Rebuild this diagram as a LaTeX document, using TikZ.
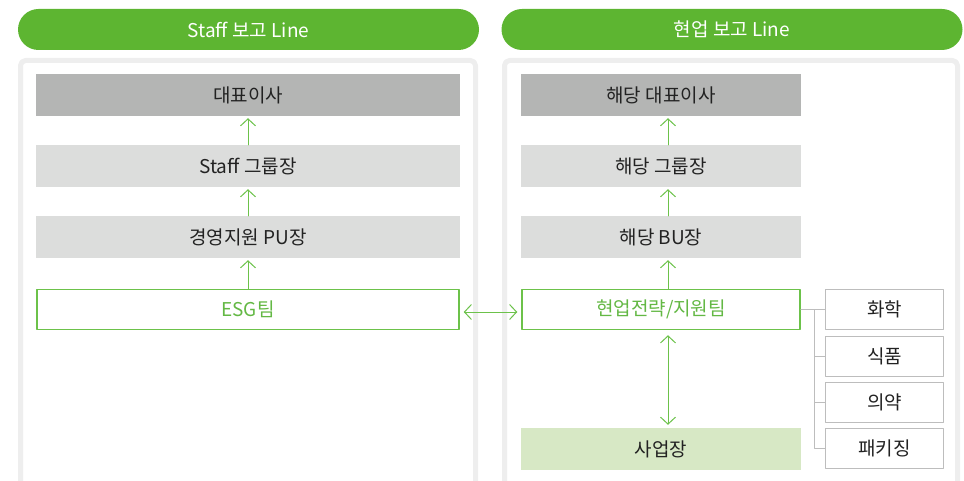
\documentclass[tikz,border=0pt]{standalone}
\usepackage{fontspec}
\setmainfont{Noto Sans CJK KR}
\usetikzlibrary{arrows.meta}

\definecolor{hdgreen}{HTML}{5DB531}
\definecolor{lngreen}{HTML}{6CC24A}
\definecolor{txgreen}{HTML}{63B844}
\definecolor{darkbox}{HTML}{B4B5B4}
\definecolor{lightbox}{HTML}{DCDDDC}
\definecolor{sitebox}{HTML}{D7E8C5}
\definecolor{panelgray}{HTML}{EEEEEE}
\definecolor{subgray}{HTML}{BDBDBD}
\definecolor{txdark}{HTML}{222222}

\tikzset{
  every node/.style={font=\fontsize{19}{21}\selectfont,text=txdark},
  header/.style={fill=hdgreen,rounded corners=20.5pt,text=white,
    minimum width=461pt,minimum height=41pt,inner sep=0pt},
  panel/.style={draw=panelgray,line width=5pt,fill=white,rounded corners=5pt},
  topbox/.style={fill=darkbox,minimum height=42pt,inner sep=0pt},
  midbox/.style={fill=lightbox,minimum height=42pt,inner sep=0pt},
  teambox/.style={draw=lngreen,line width=1.5pt,fill=white,text=txgreen,minimum height=40pt,inner sep=0pt},
  sitebx/.style={fill=sitebox,minimum height=42pt,inner sep=0pt},
  subbox/.style={draw=subgray,line width=1pt,fill=white,minimum width=118pt,minimum height=40pt,inner sep=0pt},
  uparrow/.style={draw=lngreen,line width=1pt,-{Straight Barb[length=7pt,width=15pt]}},
  twoarrow/.style={draw=lngreen,line width=1pt,{Straight Barb[length=7pt,width=15pt]}-{Straight Barb[length=7pt,width=15pt]}},
  tree/.style={draw=subgray,line width=1pt}
}

\begin{document}
\begin{tikzpicture}[line cap=round,line join=round,x=1pt,y=-1pt]
\useasboundingbox (0,0) rectangle (964,481);
\clip (0,0) rectangle (964,481);

% headers
\node[header] (hdstaff) at (248.5,29.5) {Staff 보고 Line};
\node[header] (hdline) at (732,29.5) {현업 보고 Line};

% panels
\draw[panel] (20.5,60.5) rectangle (475.5,500);
\draw[panel] (504.5,60.5) rectangle (957.5,500);

% staff line
\node[topbox,minimum width=424pt] (ceo) at (248,95) {대표이사};
\node[midbox,minimum width=424pt] (grp) at (248,166) {Staff 그룹장};
\node[midbox,minimum width=424pt] (pu) at (248,237) {경영지원 PU장};
\node[teambox,minimum width=422pt] (esg) at (248,309.5) {ESG팀};

\draw[uparrow,shorten >=2pt] (grp.north) -- (ceo.south);
\draw[uparrow,shorten >=2pt] (pu.north) -- (grp.south);
\draw[uparrow,shorten >=2pt] (esg.north) -- (pu.south);

% business line
\node[topbox,minimum width=280pt] (bceo) at (661,95) {해당 대표이사};
\node[midbox,minimum width=280pt] (bgrp) at (661,166) {해당 그룹장};
\node[midbox,minimum width=280pt] (bu) at (661,237) {해당 BU장};
\node[teambox,minimum width=278pt] (hyeon) at (661,309.5) {현업전략/지원팀};
\node[sitebx,minimum width=280pt] (site) at (661,449) {사업장};

\draw[uparrow,shorten >=2pt] ([xshift=7pt]bgrp.north) -- ([xshift=7pt]bceo.south);
\draw[uparrow,shorten >=2pt] ([xshift=7pt]bu.north) -- ([xshift=7pt]bgrp.south);
\draw[uparrow,shorten >=2pt] ([xshift=7pt]hyeon.north) -- ([xshift=7pt]bu.south);
\draw[twoarrow,shorten <=5pt,shorten >=3pt] ([xshift=7pt]hyeon.south) -- ([xshift=7pt]site.north);
\draw[twoarrow,shorten <=4pt,shorten >=4pt] ([yshift=-2.5pt]esg.east) -- ([yshift=-2.5pt]hyeon.west);

% divisions
\node[subbox] (chem) at (884.5,309.5) {화학};
\node[subbox] (food) at (884.5,356.5) {식품};
\node[subbox] (phar) at (884.5,402.5) {의약};
\node[subbox] (pack) at (884.5,448.5) {패키징};

\coordinate (fork) at (814,309.5);
\draw[tree] (hyeon.east) -- (chem.west);
\draw[tree] (fork) |- (food.west);
\draw[tree] (fork) |- (phar.west);
\draw[tree] (fork) |- (pack.west);
\end{tikzpicture}
\end{document}
